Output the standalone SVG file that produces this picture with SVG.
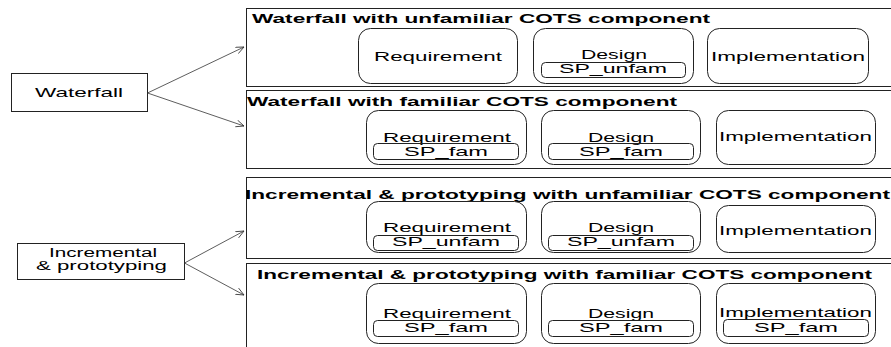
<svg xmlns="http://www.w3.org/2000/svg" width="891" height="347" viewBox="0 0 891 347">
  <style>
    .frame { fill: #fff; stroke: #222; stroke-width: 1; }
    .phase { fill: none; stroke: #222; stroke-width: 1; }
    .sp { fill: none; stroke: #222; stroke-width: 1; }
    .node { fill: #fff; stroke: #222; stroke-width: 1; }
    text { font-family: "Liberation Sans", Arial, sans-serif; fill: #000; }
    .t { font-size: 13.5px; }
    .s { font-size: 13px; }
    .t2 { font-size: 12.5px; }
    .title { font-size: 13.5px; font-weight: bold; }
    .link { stroke: #333; stroke-width: 0.8; fill: none; }
  </style>
  <defs>
    <marker id="arrow" markerUnits="userSpaceOnUse" markerWidth="10" markerHeight="10" refX="8" refY="4" orient="auto">
      <path d="M0,0.5 L8,4 L0,7.5" fill="none" stroke="#333" stroke-width="0.8"/>
    </marker>
  </defs>

  <rect width="891" height="347" fill="#fff"/>

  <!-- process models -->
  <g id="waterfall">
    <rect class="node" x="11.5" y="73.5" width="136" height="38"/>
    <text class="t" x="35" y="97" textLength="88" lengthAdjust="spacingAndGlyphs">Waterfall</text>
  </g>
  <g id="incremental">
    <rect class="node" x="17.5" y="243.5" width="167" height="36"/>
    <text class="t2" x="49" y="256.5" textLength="108" lengthAdjust="spacingAndGlyphs">Incremental</text>
    <text class="t2" x="36" y="269.5" textLength="131" lengthAdjust="spacingAndGlyphs">&amp; prototyping</text>
  </g>

  <!-- scenario 1 -->
  <g id="waterfall-unfamiliar">
    <rect class="frame" x="246.5" y="8.5" width="700" height="78"/>
    <text class="title" x="252" y="23" textLength="458" lengthAdjust="spacingAndGlyphs">Waterfall with unfamiliar COTS component</text>
    <rect class="phase" x="358.5" y="28.5" width="159" height="55" rx="12"/>
    <text class="t" x="374" y="61" textLength="128" lengthAdjust="spacingAndGlyphs">Requirement</text>
    <rect class="phase" x="533.5" y="28.5" width="160" height="55" rx="12"/>
    <text class="t" x="581" y="58.5" textLength="66" lengthAdjust="spacingAndGlyphs">Design</text>
    <rect class="sp" x="541.5" y="62.5" width="144" height="15" rx="4"/>
    <text class="s" x="559" y="73" textLength="108" lengthAdjust="spacingAndGlyphs">SP_unfam</text>
    <rect class="phase" x="707.5" y="28.5" width="161" height="55" rx="12"/>
    <text class="t" x="711" y="61" textLength="154" lengthAdjust="spacingAndGlyphs">Implementation</text>
  </g>

  <!-- scenario 2 -->
  <g id="waterfall-familiar">
    <rect class="frame" x="246.5" y="90.5" width="700" height="78"/>
    <text class="title" x="247" y="106" textLength="430" lengthAdjust="spacingAndGlyphs">Waterfall with familiar COTS component</text>
    <rect class="phase" x="366.5" y="110.5" width="160" height="54" rx="12"/>
    <text class="t" x="383" y="142" textLength="128" lengthAdjust="spacingAndGlyphs">Requirement</text>
    <rect class="sp" x="373.5" y="143.5" width="145" height="16" rx="4"/>
    <text class="s" x="404" y="155.5" textLength="84" lengthAdjust="spacingAndGlyphs">SP_fam</text>
    <rect class="phase" x="541.5" y="110.5" width="159" height="54" rx="12"/>
    <text class="t" x="588" y="142" textLength="66" lengthAdjust="spacingAndGlyphs">Design</text>
    <rect class="sp" x="548.5" y="143.5" width="145" height="16" rx="4"/>
    <text class="s" x="579" y="155.5" textLength="84" lengthAdjust="spacingAndGlyphs">SP_fam</text>
    <rect class="phase" x="716.5" y="110.5" width="159" height="54" rx="12"/>
    <text class="t" x="719" y="141" textLength="153" lengthAdjust="spacingAndGlyphs">Implementation</text>
  </g>

  <!-- scenario 3 -->
  <g id="incremental-unfamiliar">
    <rect class="frame" x="246.5" y="177.5" width="700" height="81"/>
    <text class="title" x="245" y="199" textLength="645" lengthAdjust="spacingAndGlyphs">Incremental &amp; prototyping with unfamiliar COTS component</text>
    <rect class="phase" x="366.5" y="201.5" width="160" height="51" rx="12"/>
    <text class="t" x="383" y="232" textLength="128" lengthAdjust="spacingAndGlyphs">Requirement</text>
    <rect class="sp" x="373.5" y="235.5" width="145" height="15" rx="4"/>
    <text class="s" x="392" y="246" textLength="108" lengthAdjust="spacingAndGlyphs">SP_unfam</text>
    <rect class="phase" x="541.5" y="201.5" width="159" height="51" rx="12"/>
    <text class="t" x="588" y="232" textLength="66" lengthAdjust="spacingAndGlyphs">Design</text>
    <rect class="sp" x="548.5" y="235.5" width="145" height="15" rx="4"/>
    <text class="s" x="567" y="246" textLength="108" lengthAdjust="spacingAndGlyphs">SP_unfam</text>
    <rect class="phase" x="716.5" y="205.5" width="159" height="47" rx="12"/>
    <text class="t" x="719" y="235" textLength="153" lengthAdjust="spacingAndGlyphs">Implementation</text>
  </g>

  <!-- scenario 4 -->
  <g id="incremental-familiar">
    <rect class="frame" x="246.5" y="263.5" width="700" height="90"/>
    <text class="title" x="257" y="279" textLength="615" lengthAdjust="spacingAndGlyphs">Incremental &amp; prototyping with familiar COTS component</text>
    <rect class="phase" x="366.5" y="283.5" width="160" height="60" rx="12"/>
    <text class="t" x="383" y="318" textLength="128" lengthAdjust="spacingAndGlyphs">Requirement</text>
    <rect class="sp" x="373.5" y="320.5" width="145" height="16" rx="4"/>
    <text class="s" x="404" y="332" textLength="84" lengthAdjust="spacingAndGlyphs">SP_fam</text>
    <rect class="phase" x="541.5" y="283.5" width="159" height="60" rx="12"/>
    <text class="t" x="588" y="318" textLength="66" lengthAdjust="spacingAndGlyphs">Design</text>
    <rect class="sp" x="548.5" y="320.5" width="145" height="16" rx="4"/>
    <text class="s" x="579" y="332" textLength="84" lengthAdjust="spacingAndGlyphs">SP_fam</text>
    <rect class="phase" x="716.5" y="283.5" width="159" height="60" rx="12"/>
    <text class="t" x="719" y="316.5" textLength="153" lengthAdjust="spacingAndGlyphs">Implementation</text>
    <rect class="sp" x="723.5" y="319.5" width="145" height="17" rx="4"/>
    <text class="s" x="754" y="332" textLength="84" lengthAdjust="spacingAndGlyphs">SP_fam</text>
  </g>

  <!-- connectors -->
  <g id="connectors">
    <line class="link" x1="147.5" y1="93" x2="244" y2="47" marker-end="url(#arrow)"/>
    <line class="link" x1="147.5" y1="93" x2="244" y2="126" marker-end="url(#arrow)"/>
    <line class="link" x1="184.5" y1="263" x2="244" y2="231" marker-end="url(#arrow)"/>
    <line class="link" x1="184.5" y1="263" x2="244" y2="295" marker-end="url(#arrow)"/>
  </g>
</svg>
